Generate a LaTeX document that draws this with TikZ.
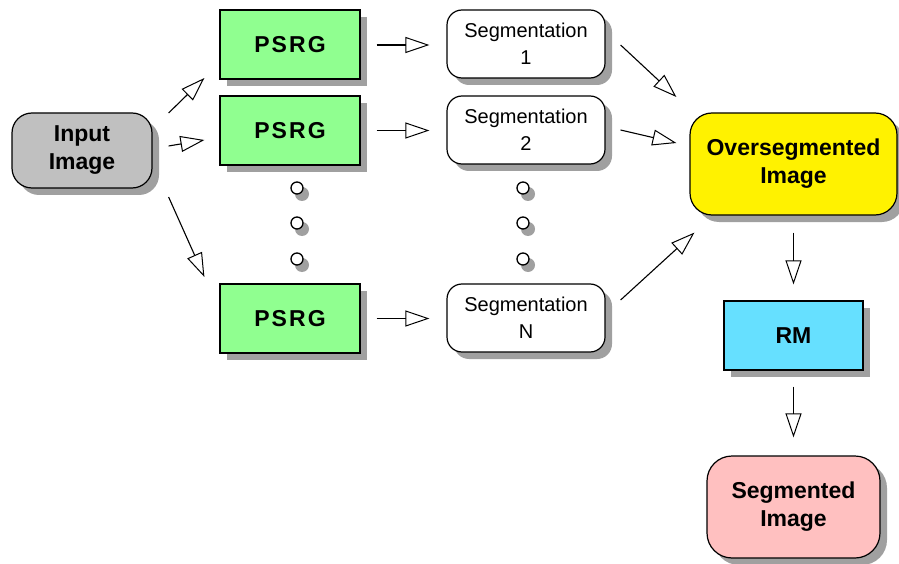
\documentclass[tikz,border=0pt]{standalone}
\usepackage{fontspec}
\setmainfont{Liberation Sans}
\usetikzlibrary{arrows.meta,shadows}
\pgfdeclarelayer{bottom}
\pgfdeclarelayer{background}
\pgfsetlayers{bottom,background,main}
\definecolor{psrggreen}{RGB}{144,255,144}
\definecolor{rmcyan}{RGB}{102,224,255}
\definecolor{inpgray}{RGB}{192,192,192}
\definecolor{segpink}{RGB}{255,192,192}
\definecolor{shadowgray}{RGB}{160,160,160}
\tikzset{
  boxshadow/.style={drop shadow={shadow xshift=7pt,shadow yshift=-7pt,fill=shadowgray,opacity=1}},
  base/.style={draw=black,line width=1.2pt,inner sep=0pt,align=center,boxshadow},
  boldbox/.style={base,font=\fontsize{23}{28}\selectfont\bfseries},
  psrgbox/.style={boldbox,rectangle,fill=psrggreen,minimum width=140pt,minimum height=69pt},
  segbox/.style={base,rounded corners=15pt,fill=white,minimum width=158pt,minimum height=68pt,font=\fontsize{20}{27}\selectfont},
  dotnode/.style={circle,draw=black,line width=1.3pt,fill=white,minimum size=12pt,inner sep=0pt},
  dotshadow/.style={fill=shadowgray},
  arr/.style={draw=black,line width=1.1pt,-{Triangle[open,length=24pt,width=16pt,line width=1pt]}}
}
\newcommand{\spaced}[1]{{\addfontfeature{LetterSpace=9}#1}}
\begin{document}
\begin{tikzpicture}[x=1pt,y=-1pt]
\begin{pgfonlayer}{bottom}
\fill[white] (0,0) rectangle (899,564);
\end{pgfonlayer}
\useasboundingbox (0,0) rectangle (899,564);
% nodes
\node[boldbox,rounded corners=20pt,fill=inpgray,minimum width=140pt,minimum height=75pt] (in) at (82,150.5) {Input\\Image};
\node[psrgbox] (p1) at (290,44.5) {\spaced{PSRG}};
\node[psrgbox] (p2) at (290,130.5) {\spaced{PSRG}};
\node[psrgbox] (p3) at (290,318.5) {\spaced{PSRG}};
\node[segbox] (s1) at (526,44) {Segmentation\\1};
\node[segbox] (s2) at (526,130) {Segmentation\\2};
\node[segbox] (sN) at (526,318) {Segmentation\\N};
\node[boldbox,rounded corners=22pt,fill=yellow,minimum width=207pt,minimum height=102pt] (ov) at (793.5,164) {Oversegmented\\Image};
\node[boldbox,rectangle,fill=rmcyan,minimum width=139pt,minimum height=69pt] (rm) at (793.5,335.5) {RM};
\node[boldbox,rounded corners=25pt,fill=segpink,minimum width=173pt,minimum height=102pt] (si) at (793.5,507) {Segmented\\Image};
% dots
\node[dotnode] (d1) at (297,188) {};
\node[dotnode] (d2) at (297,223) {};
\node[dotnode] (d3) at (297,259) {};
\node[dotnode] (e1) at (523,188) {};
\node[dotnode] (e2) at (523,223) {};
\node[dotnode] (e3) at (523,259) {};
\begin{pgfonlayer}{background}
\foreach \dd in {d1,d2,d3,e1,e2,e3} {
  \path[dotshadow] ([shift={(5,6)}]\dd.center) circle[radius=7pt];
}
\end{pgfonlayer}
% connectors
\draw[arr] ([shift={(16,-37.5)}]in.east) -- ([shift={(-15,33.5)}]p1.west);
\draw[arr] ([shift={(16,-4.5)}]in.east) -- ([shift={(-15,9.5)}]p2.west);
\draw[arr] ([shift={(16,46.5)}]in.east) -- ([shift={(-15,-41.5)}]p3.west);
\draw[arr] ([shift={(16,0.5)}]p1.east) -- ([shift={(-17,1)}]s1.west);
\draw[arr] ([shift={(16,0)}]p2.east) -- ([shift={(-17,0.5)}]s2.west);
\draw[arr] ([shift={(16,0)}]p3.east) -- ([shift={(-17,0.5)}]sN.west);
\draw[arr] ([shift={(15,1)}]s1.east) -- ([shift={(-13,-67)}]ov.west);
\draw[arr] ([shift={(15,0)}]s2.east) -- ([shift={(-13,-21)}]ov.west);
\draw[arr] ([shift={(15,-18)}]sN.east) -- ([shift={(5,17)}]ov.south west);
\draw[arr] ([shift={(0,17)}]ov.south) -- ([shift={(0,-16)}]rm.north);
\draw[arr] ([shift={(0,16)}]rm.south) -- ([shift={(0,-18)}]si.north);
\end{tikzpicture}
\end{document}
